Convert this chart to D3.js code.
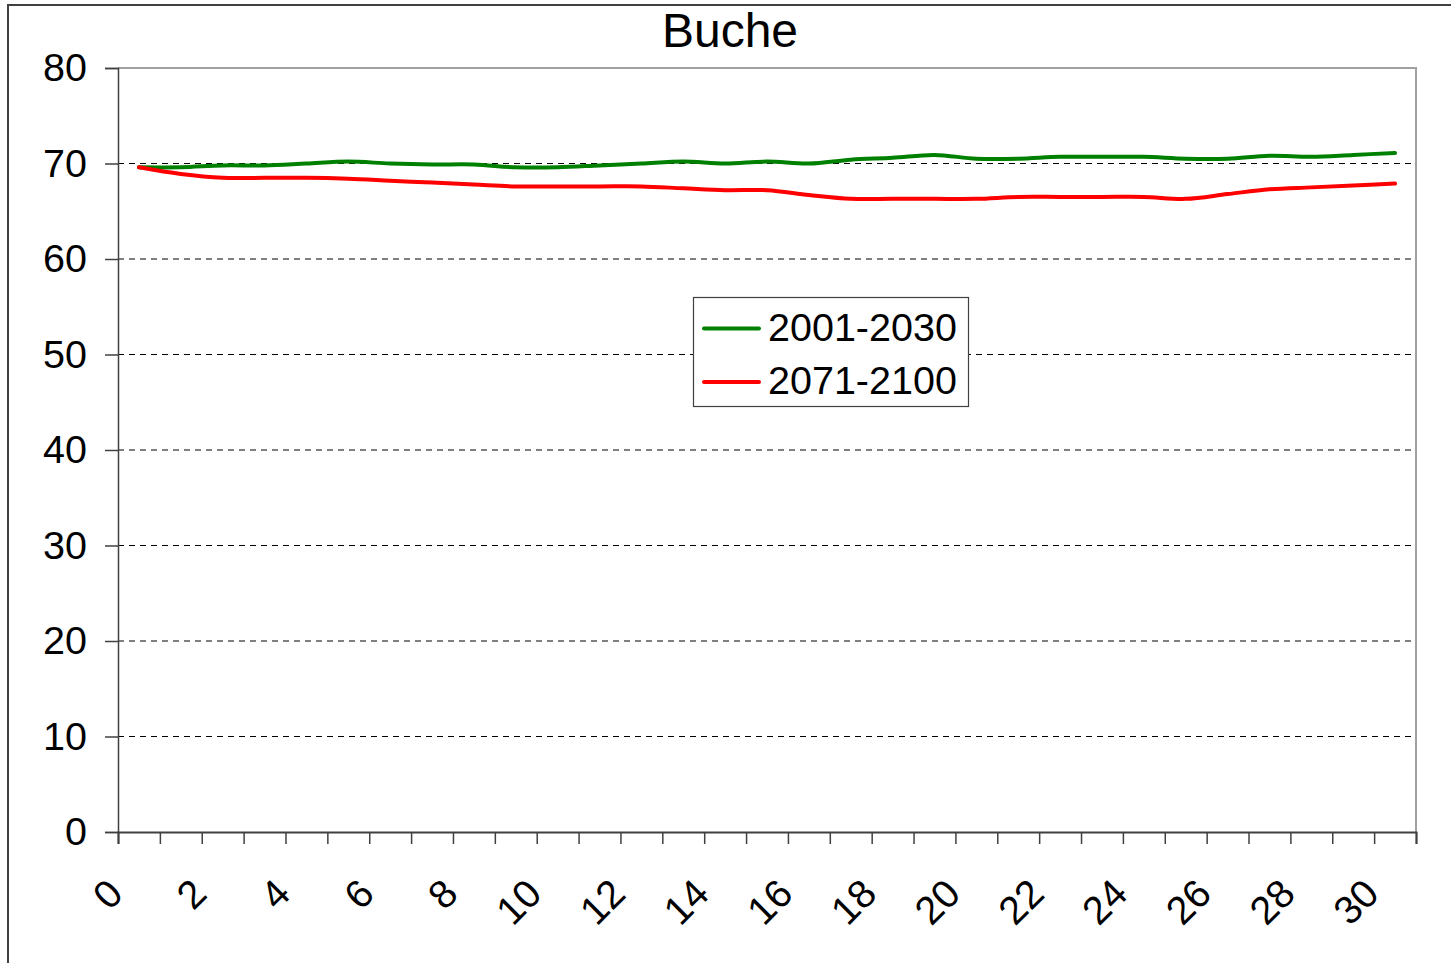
<!DOCTYPE html>
<html>
<head>
<meta charset="utf-8">
<script src="https://cdn.jsdelivr.net/npm/d3@7/dist/d3.min.js"></script>
<style>
  html, body { margin: 0; padding: 0; background: #fff; }
  svg { display: block; }
  text { font-family: "Liberation Sans", Arial, sans-serif; fill: #000; }
</style>
</head>
<body>
<svg id="chart" width="1451" height="963"></svg>
<script>
// Tree-species series (Buche) for two climate periods
const categories = d3.range(0, 31);            // class index 0..30
const tickLabels = d3.range(0, 31, 2);         // labelled every second class
const seriesNames = ["2001-2030", "2071-2100"];
const values2001 = [69.6, 69.6, 69.8, 69.8, 70.0, 70.2, 70.0, 69.9, 69.9, 69.6, 69.6,
                    69.8, 70.0, 70.2, 70.0, 70.2, 70.0, 70.4, 70.6, 70.9, 70.5,
                    70.5, 70.7, 70.7, 70.7, 70.5, 70.5, 70.8, 70.7, 70.9, 71.1];
const values2071 = [69.6, 68.9, 68.5, 68.5, 68.5, 68.4, 68.2, 68.0, 67.8, 67.6, 67.6,
                    67.6, 67.6, 67.4, 67.2, 67.2, 66.7, 66.3, 66.3, 66.3, 66.3,
                    66.5, 66.5, 66.5, 66.5, 66.3, 66.8, 67.3, 67.5, 67.7, 67.9];
const yTicks = [0, 10, 20, 30, 40, 50, 60, 70, 80];
const seriesColors = ["#008000", "#ff0000"];

const svg = d3.select("#chart");
const plot = { left: 118, top: 68, right: 1416, bottom: 832 };
const labelSize = 39.5;

// chart-area frame
svg.append("rect")
  .attr("x", 8).attr("y", 5).attr("width", 1470).attr("height", 1000)
  .attr("fill", "#fff").attr("stroke", "#404040").attr("stroke-width", 2);

const x = d3.scaleLinear().domain([0, 31]).range([plot.left, plot.right]);
const y = d3.scaleLinear().domain([0, 80]).range([plot.bottom, plot.top]);

// horizontal dashed grid
svg.append("g")
  .selectAll("line")
  .data(yTicks.filter(v => v > 0 && v < 80))
  .join("line")
  .attr("x1", plot.left).attr("x2", plot.right)
  .attr("y1", d => y(d)).attr("y2", d => y(d))
  .attr("stroke", "#000").attr("stroke-width", 1)
  .attr("stroke-dasharray", "6,5");

// plot-area border (top and right)
svg.append("path")
  .attr("d", `M${plot.left},${plot.top}H${plot.right}V${plot.bottom}`)
  .attr("fill", "none").attr("stroke", "#a0a0a0").attr("stroke-width", 2);

// y axis
const yAxis = d3.axisLeft(y).tickValues(yTicks).tickSize(13).tickPadding(18);
const gy = svg.append("g").attr("transform", `translate(${plot.left},0)`).call(yAxis);
gy.select(".domain").attr("stroke", "#404040").attr("stroke-width", 1.5);
gy.selectAll(".tick line").attr("stroke", "#404040").attr("stroke-width", 1.5);
gy.selectAll(".tick text")
  .attr("font-family", "Liberation Sans, Arial, sans-serif")
  .attr("font-size", labelSize).attr("fill", "#000");

// x axis: tick marks at every class boundary, labels rotated
const xAxis = d3.axisBottom(x).tickValues(d3.range(0, 32)).tickSize(12).tickFormat("");
const gx = svg.append("g").attr("transform", `translate(0,${plot.bottom})`).call(xAxis);
gx.select(".domain").attr("stroke", "#404040").attr("stroke-width", 2);
gx.selectAll(".tick line").attr("stroke", "#404040").attr("stroke-width", 1.5);

svg.append("g")
  .selectAll("text")
  .data(tickLabels)
  .join("text")
  .attr("transform", d => `translate(${x(d) + 7},${plot.bottom + 64}) rotate(-45)`)
  .attr("text-anchor", "end")
  .attr("font-size", labelSize)
  .text(d => d);

// series lines, points centred in each class
const line = d3.line()
  .x((d, i) => x(categories[i] + 0.5))
  .y(d => y(d))
  .curve(d3.curveCatmullRom.alpha(0.5));

[values2001, values2071].forEach((vals, k) => {
  svg.append("path")
    .datum(vals)
    .attr("d", line)
    .attr("fill", "none")
    .attr("stroke", seriesColors[k])
    .attr("stroke-width", 4)
    .attr("stroke-linecap", "round")
    .attr("stroke-linejoin", "round");
});

// title
svg.append("text")
  .attr("x", 730).attr("y", 47)
  .attr("text-anchor", "middle")
  .attr("font-size", 48)
  .text("Buche");

// legend
const legend = svg.append("g");
legend.append("rect")
  .attr("x", 693.5).attr("y", 297.5).attr("width", 275).attr("height", 109)
  .attr("fill", "#fff").attr("stroke", "#404040").attr("stroke-width", 1.2);
seriesNames.forEach((name, k) => {
  const cy = 328.5 + k * 53.5;
  legend.append("line")
    .attr("x1", 704).attr("x2", 759).attr("y1", cy).attr("y2", cy)
    .attr("stroke", seriesColors[k]).attr("stroke-width", 4)
    .attr("stroke-linecap", "round");
  legend.append("text")
    .attr("x", 768).attr("y", cy + 12)
    .attr("font-size", labelSize)
    .text(name);
});
</script>
</body>
</html>
